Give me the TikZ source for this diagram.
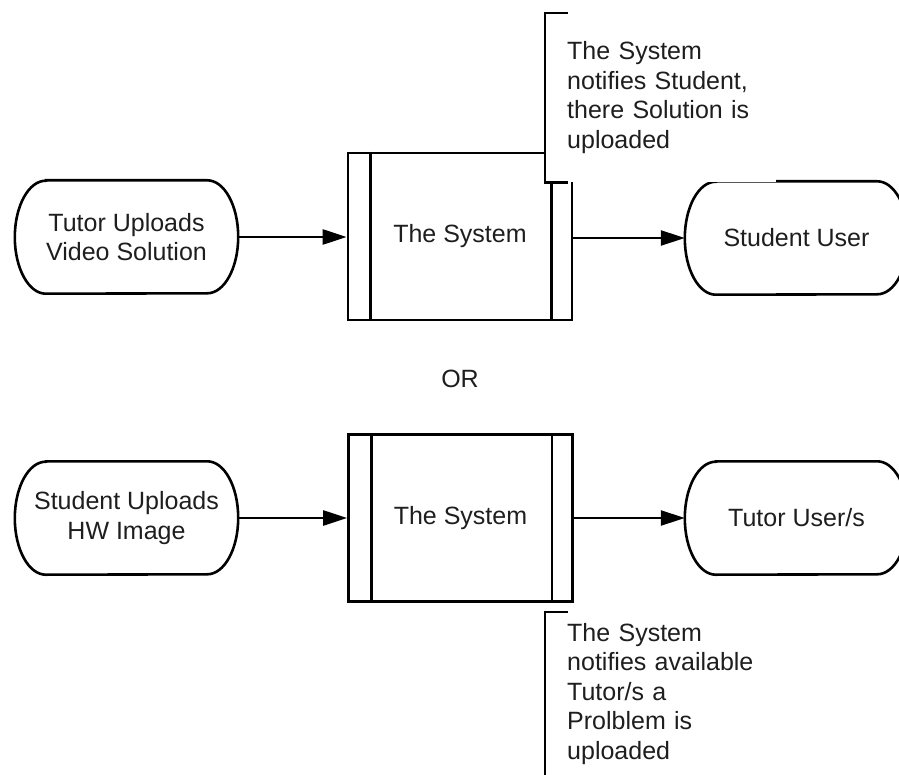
\documentclass[tikz,border=0pt]{standalone}
\usepackage{fontspec}
\setmainfont{Liberation Sans}
\usetikzlibrary{arrows.meta}

\definecolor{inkline}{HTML}{000000}
\definecolor{inktext}{HTML}{1E1E1E}

\begin{document}
\begin{tikzpicture}[x=1pt,y=-1pt,
  txt/.style={font=\fontsize{25}{29.5}\selectfont, text=inktext},
  terminal/.style={txt, align=center, minimum width=223pt, minimum height=113pt, inner sep=0pt},
  process/.style={txt, draw=inkline, line width=2.8pt, minimum width=224pt, minimum height=167pt, inner sep=0pt},
  flow/.style={draw=inkline, line width=2.6pt, -{Triangle[length=24pt,width=15pt]}},
  outline/.style={draw=inkline, line width=2.6pt},
  note/.style={txt, align=left, fill=white, anchor=north west, inner xsep=22pt, inner ysep=0pt},
  bracket/.style={draw=inkline, line width=2.8pt}
]
\useasboundingbox (0,0) rectangle (899,775);

% upper flow: tutor -> system -> student
\node[terminal] (tutorup)  at (126.5,237) {Tutor Uploads\\Video Solution};
\node[process]  (sys1)     at (460,236.5) {The System};
\node[terminal] (studuser) at (796.5,238) {Student User};

% lower flow: student -> system -> tutors
\node[terminal] (studup)    at (126.5,518) {Student Uploads\\HW Image};
\node[process]  (sys2)      at (460.5,518) {The System};
\node[terminal] (tutoruser) at (796.5,518) {Tutor User/s};

\node[txt] (orlabel) at (460,379) {OR};

% terminator outlines with elliptical ends
\foreach \n in {tutorup,studuser,studup,tutoruser}{
  \draw[outline] ([xshift=31pt]\n.north west) -- ([xshift=-31pt]\n.north east)
    arc[start angle=90,end angle=-90,x radius=31pt,y radius=56.5pt]
    -- ([xshift=31pt]\n.south west)
    arc[start angle=270,end angle=90,x radius=31pt,y radius=56.5pt] -- cycle;
}

% inner side bars of the process boxes
\foreach \n in {sys1,sys2}{
  \draw[outline, line width=2.8pt] ([xshift=24pt]\n.north west) -- ([xshift=24pt]\n.south west);
  \draw[outline, line width=2.8pt] ([xshift=-22pt]\n.north east) -- ([xshift=-22pt]\n.south east);
}

% connectors
\draw[flow] (tutorup.east) -- (tutorup.east -| sys1.west);
\draw[flow] (sys1.east |- studuser.west) -- (studuser.west);
\draw[flow] (studup.east) -- (studup.east -| sys2.west);
\draw[flow] (sys2.east |- tutoruser.west) -- (tutoruser.west);

% annotations
\node[note, minimum height=169pt, text width=187pt] (note1) at (545,13)
  {The System\\notifies Student,\\there Solution is\\uploaded};
\draw[bracket] ([xshift=23pt]note1.north west) -- (note1.north west)
  -- (note1.south west) -- ([xshift=23pt]note1.south west);

\node[note, minimum height=163pt, text width=220pt] (note2) at (545,612)
  {The System\\notifies available\\Tutor/s a\\Prolblem is\\uploaded};
\coordinate (note2end) at ([yshift=-40pt]note2.south west);
\draw[bracket] ([xshift=23pt]note2.north west) -- (note2.north west) -- (note2end);
\end{tikzpicture}
\end{document}
